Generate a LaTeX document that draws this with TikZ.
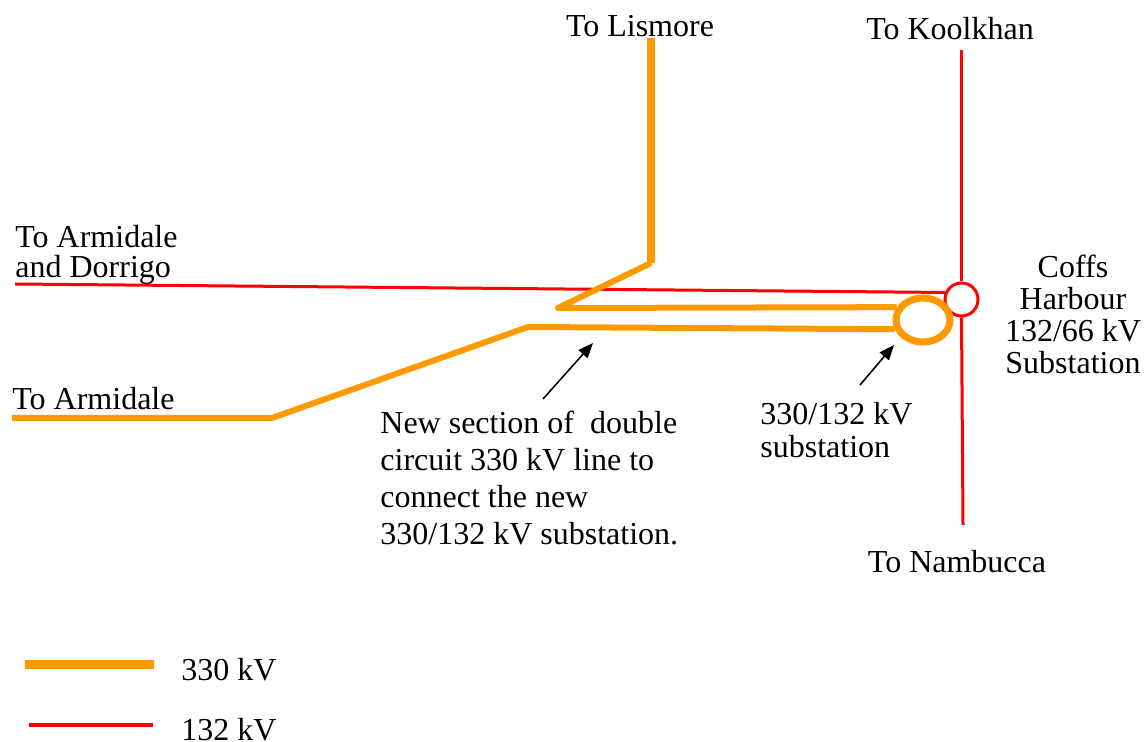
\documentclass[tikz,border=0pt]{standalone}
\usepackage{fontspec}
\setmainfont{Liberation Serif}
\usetikzlibrary{arrows.meta}
\usetikzlibrary{shapes.geometric}
\definecolor{hvorange}{RGB}{255,153,0}
\definecolor{hvred}{RGB}{255,0,0}
\tikzset{line330/.style={draw=hvorange, line width=3pt},
  line132/.style={draw=hvred, line width=1.5pt},
  lbl/.style={inner sep=0pt, font=\fontsize{16}{15}\selectfont},
  pointer/.style={-{Triangle[length=7.5pt,width=6pt]}, line width=0.8pt}}

\begin{document}
\begin{tikzpicture}[x=0.5pt,y=-0.5pt]
\useasboundingbox (0,0) rectangle (1145,742);

% substations
\node[circle, draw=hvred, line width=1.5pt, inner sep=0pt, minimum size=16.5pt] (chs) at (961.5,299.5) {};
\node[ellipse, draw=hvorange, line width=3.5pt, inner sep=0pt, minimum width=27pt, minimum height=22pt] (sub330) at (923,320) {};

% 132 kV lines
\coordinate (koolkhan) at (961.5,50);
\coordinate (nambucca) at (963,525);
\coordinate (armdor) at (15,284);
\draw[line132] (koolkhan) -- (chs.north);
\draw[line132] (chs.south) -- (nambucca);
\draw[line132] (armdor) -- (chs.157);

% 330 kV lines
\coordinate (lismore) at (651,38);
\coordinate (lisbend) at (651,263);
\coordinate (upjoin) at (558,308);
\coordinate (lojoin) at (528,327);
\coordinate (armbend) at (272,418);
\coordinate (armidale) at (12,418);
\draw[line330, line width=4pt] (lismore) -- (lisbend);
\draw[line330, line join=round] (lisbend) -- (upjoin) -- (sub330.154);
\draw[line330] (armidale) -- (armbend) -- (lojoin) -- (sub330.198);

% pointers
\coordinate (ptr1) at (543,399);
\coordinate (tip1) at (593,343);
\coordinate (ptr2) at (860,385);
\coordinate (tip2) at (894,345);
\draw[pointer] (ptr1) -- (tip1);
\draw[pointer] (ptr2) -- (tip2);

% labels
\node[lbl, anchor=base] (tlis) at (640,37) {To Lismore};
\node[lbl, anchor=base] (tkool) at (950,40) {To Koolkhan};
\node[lbl, anchor=base] (tnamb) at (957,573) {To Nambucca};
\node[lbl, anchor=base west] (tarm) at (12,410) {To Armidale};
\node[lbl, anchor=north west, align=left] (tarmdor) at (15,225) {To Armidale\\and Dorrigo};
\node[lbl, anchor=north, align=center, font=\fontsize{16}{16}\selectfont] (tcoffs) at (1073,255) {Coffs\\Harbour\\132/66 kV\\Substation};
\node[lbl, anchor=north west, align=left, font=\fontsize{16}{16.5}\selectfont] (tsub) at (760,402) {330/132 kV\\substation};
\node[lbl, anchor=north west, align=left, font=\fontsize{16}{18.5}\selectfont] (tnew) at (380,411) {New section of~ double\\circuit 330 kV line to\\connect the new\\330/132 kV substation.};

% legend
\coordinate (leg1a) at (25,664);
\coordinate (leg1b) at (154,664);
\coordinate (leg2a) at (29,725);
\coordinate (leg2b) at (153,725);
\draw[line330, line width=4.5pt] (leg1a) -- (leg1b);
\draw[line132, line width=2pt] (leg2a) -- (leg2b);
\node[lbl, anchor=base west] (t330) at (181,680) {330 kV};
\node[lbl, anchor=base west] (t132) at (181,740) {132 kV};

\end{tikzpicture}
\end{document}
